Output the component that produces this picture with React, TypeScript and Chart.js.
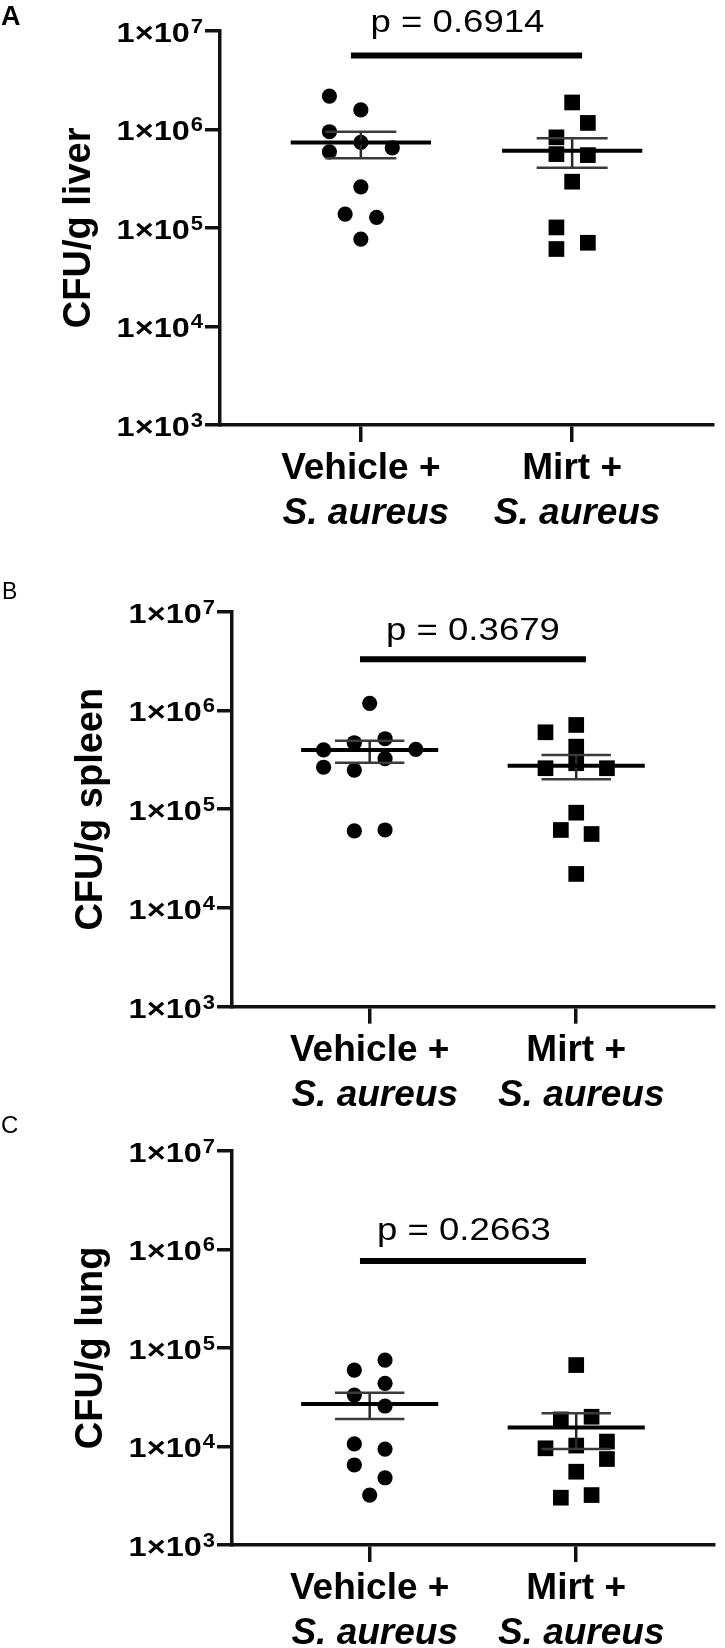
import React, { useEffect, useRef } from "react";
import { Chart, registerables } from "chart.js";

Chart.register(...registerables);

// ---------- data ----------
const categories = ["Vehicle +", "Mirt +"];
const categorySub = "S. aureus";
const yTickValues = [1e3, 1e4, 1e5, 1e6, 1e7];
const yTickExponents = ["3", "4", "5", "6", "7"];
const panelLetters = ["A", "B", "C"];
const yTitles = ["CFU/g liver", "CFU/g spleen", "CFU/g lung"];
const pLabels = ["p = 0.6914", "p = 0.3679", "p = 0.2663"];
const pBarValues = [5.6e6, 3.3e6, 7.6e5];

// liver
const liverVehicle = [2.17e6, 1.57e6, 9.44e5, 7.36e5, 6.49e5, 5.91e5, 2.61e5, 1.38e5, 1.28e5, 7.7e4];
const liverVehicleCols = [-2, 0, -2, 0, 2, -2, 0, -1, 1, 0];
const liverMirt = [1.87e6, 1.16e6, 8.28e5, 5.6e5, 5.47e5, 2.94e5, 1.01e5, 7.06e4, 6.1e4];
const liverMirtCols = [0, 1, -1, -1, 1, 0, -1, 1, -1];
// spleen
const spleenVehicle = [1.18e6, 4.71e5, 5.17e5, 3.98e5, 4.04e5, 3.25e5, 2.66e5, 2.49e5, 6.02e4, 6.16e4];
const spleenVehicleCols = [0, -1, 1, -3, 3, 1, -3, -1, -1, 1];
const spleenMirt = [6.01e5, 7.13e5, 4.3e5, 2.6e5, 2.92e5, 2.6e5, 9.22e4, 6.16e4, 5.61e4, 2.21e4];
const spleenMirtCols = [-2, 0, 0, -2, 0, 2, 0, -1, 1, 0];
// lung
const lungVehicle = [7.52e4, 5.95e4, 4.37e4, 3.32e4, 2.57e4, 1.06e4, 9.4e3, 6.48e3, 4.81e3, 3.21e3];
const lungVehicleCols = [1, -1, 1, -1, 1, -1, 1, -1, 1, 0];
const lungMirt = [6.69e4, 1.88e4, 2.0e4, 9.57e3, 1.02e4, 1.12e4, 7.45e3, 5.54e3, 3.02e3, 3.21e3];
const lungMirtCols = [0, -1, 1, -2, 0, 2, 2, 0, -1, 1];

// mean and SEM bounds: [vehicle, mirt]
const liverMean = [7.36e5, 6.05e5];
const liverSemHigh = [9.44e5, 8.09e5];
const liverSemLow = [5.07e5, 4.07e5];
const spleenMean = [3.98e5, 2.76e5];
const spleenSemHigh = [4.94e5, 3.54e5];
const spleenSemLow = [2.96e5, 2.01e5];
const lungMean = [2.69e4, 1.56e4];
const lungSemHigh = [3.5e4, 2.17e4];
const lungSemLow = [1.9e4, 9.4e3];

// ---------- layout / style ----------
const FONT = '"Liberation Sans", Arial, Helvetica, sans-serif';
const JITTER = 0.0744;
const MEAN_HALF = 0.332;
const SEM_HALF = 0.168;
const BAR_EXT = 0.047;

type Panel = {
  top: number;
  height: number;
  padding: { left: number; top: number; right: number; bottom: number };
  letterFont: string;
  letterX: number;
  letterY: number;
  titleBaselineX: number;
  pOffsetX: number;
  pGap: number;
  vehicle: number[];
  vehicleCols: number[];
  mirt: number[];
  mirtCols: number[];
  mean: number[];
  semHigh: number[];
  semLow: number[];
};

const panels: Panel[] = [
  {
    top: 0, height: 560,
    padding: { left: 220, top: 30.7, right: 12, bottom: 135 },
    letterFont: `bold 27px ${FONT}`, letterX: 1, letterY: 25,
    titleBaselineX: 90, pOffsetX: -9, pGap: 24,
    vehicle: liverVehicle, vehicleCols: liverVehicleCols,
    mirt: liverMirt, mirtCols: liverMirtCols,
    mean: liverMean, semHigh: liverSemHigh, semLow: liverSemLow,
  },
  {
    top: 560, height: 560,
    padding: { left: 232, top: 51.7, right: 1, bottom: 113.3 },
    letterFont: `23px ${FONT}`, letterX: 2, letterY: 39.3,
    titleBaselineX: 102, pOffsetX: 0, pGap: 19,
    vehicle: spleenVehicle, vehicleCols: spleenVehicleCols,
    mirt: spleenMirt, mirtCols: spleenMirtCols,
    mean: spleenMean, semHigh: spleenSemHigh, semLow: spleenSemLow,
  },
  {
    top: 1100, height: 548,
    padding: { left: 232, top: 50.7, right: 1, bottom: 103 },
    letterFont: `24px ${FONT}`, letterX: 1, letterY: 33,
    titleBaselineX: 102, pOffsetX: -9, pGap: 21,
    vehicle: lungVehicle, vehicleCols: lungVehicleCols,
    mirt: lungMirt, mirtCols: lungMirtCols,
    mean: lungMean, semHigh: lungSemHigh, semLow: lungSemLow,
  },
];

function drawScaled(ctx: CanvasRenderingContext2D, text: string, x: number, y: number, sx: number, font: string) {
  ctx.save();
  ctx.translate(x, y);
  ctx.scale(sx, 1);
  ctx.font = font;
  ctx.textAlign = "left";
  ctx.textBaseline = "alphabetic";
  ctx.fillText(text, 0, 0);
  ctx.restore();
}

function makeTextPlugin(idx: number) {
  const panel = panels[idx];
  return {
    id: "panelText" + idx,
    afterDraw(chart: any) {
      const ctx: CanvasRenderingContext2D = chart.ctx;
      const xs = chart.scales.x;
      const ys = chart.scales.y;
      const area = chart.chartArea;
      ctx.save();
      ctx.fillStyle = "#000";

      // panel letter
      ctx.font = panel.letterFont;
      ctx.textAlign = "left";
      ctx.textBaseline = "alphabetic";
      ctx.fillText(panelLetters[idx], panel.letterX, panel.letterY);

      // y tick labels 1×10^n
      const mainFont = `bold 28px ${FONT}`;
      const supFont = `bold 20px ${FONT}`;
      yTickValues.forEach((v, i) => {
        const y = ys.getPixelForValue(v);
        ctx.font = mainFont;
        const mainW = ctx.measureText("1×10").width * 1.16;
        ctx.font = supFont;
        const supW = ctx.measureText(yTickExponents[i]).width * 1.1;
        const right = area.left - 17;
        const supX = right - supW;
        const mainX = supX - 1 - mainW;
        drawScaled(ctx, "1×10", mainX, y + 11, 1.16, mainFont);
        drawScaled(ctx, yTickExponents[i], supX, y + 2, 1.1, supFont);
      });

      // y title
      ctx.save();
      ctx.translate(panel.titleBaselineX, (area.top + area.bottom) / 2);
      ctx.rotate(-Math.PI / 2);
      ctx.font = `bold 38px ${FONT}`;
      ctx.textAlign = "center";
      ctx.textBaseline = "alphabetic";
      ctx.fillText(yTitles[idx], 0, 0);
      ctx.restore();

      // category labels
      categories.forEach((c, i) => {
        const x = xs.getPixelForValue(i + 1);
        ctx.font = `bold 37px ${FONT}`;
        ctx.textAlign = "center";
        ctx.textBaseline = "alphabetic";
        ctx.fillText(c, x, area.bottom + 54);
        ctx.font = `italic bold 37px ${FONT}`;
        ctx.fillText(categorySub, x + 5, area.bottom + 99);
      });

      // p value
      const pFont = `31px ${FONT}`;
      ctx.font = pFont;
      const pw = ctx.measureText(pLabels[idx]).width * 1.18;
      const pcx = xs.getPixelForValue(1.5) + panel.pOffsetX;
      const py = ys.getPixelForValue(pBarValues[idx]) - panel.pGap;
      drawScaled(ctx, pLabels[idx], pcx - pw / 2, py, 1.18, pFont);

      ctx.restore();
    },
  };
}

function lineDs(data: { x: number; y: number }[], width: number, color: string) {
  return {
    data,
    showLine: true,
    borderColor: color,
    borderWidth: width,
    borderCapStyle: "butt",
    pointRadius: 0,
    pointHoverRadius: 0,
    order: 0,
    clip: false,
  };
}

function buildDatasets(idx: number) {
  const p = panels[idx];
  const groups = [
    { vals: p.vehicle, cols: p.vehicleCols, style: "circle", radius: 7.6 },
    { vals: p.mirt, cols: p.mirtCols, style: "rect", radius: 11.1 },
  ];
  const ds: any[] = [];
  groups.forEach((g, gi) => {
    const cx = gi + 1;
    ds.push({
      label: categories[gi],
      data: g.vals.map((v, k) => ({ x: cx + g.cols[k] * JITTER, y: v })),
      showLine: false,
      pointStyle: g.style,
      pointRadius: g.radius,
      pointHoverRadius: g.radius,
      pointBackgroundColor: "#000",
      pointBorderWidth: 0,
      order: 1,
      clip: false,
    });
    ds.push(lineDs([{ x: cx - MEAN_HALF, y: p.mean[gi] }, { x: cx + MEAN_HALF, y: p.mean[gi] }], 4, "#000"));
    ds.push(lineDs([{ x: cx - SEM_HALF, y: p.semHigh[gi] }, { x: cx + SEM_HALF, y: p.semHigh[gi] }], 2.5, "#3a3a3a"));
    ds.push(lineDs([{ x: cx - SEM_HALF, y: p.semLow[gi] }, { x: cx + SEM_HALF, y: p.semLow[gi] }], 2.5, "#3a3a3a"));
    ds.push(lineDs([{ x: cx, y: p.semLow[gi] }, { x: cx, y: p.semHigh[gi] }], 2.5, "#2a2a2a"));
  });
  ds.push(lineDs([{ x: 1 - BAR_EXT, y: pBarValues[idx] }, { x: 2 + BAR_EXT, y: pBarValues[idx] }], 6, "#000"));
  return ds;
}

function makeChart(canvas: HTMLCanvasElement, idx: number) {
  const p = panels[idx];
  return new Chart(canvas, {
    type: "scatter",
    data: { datasets: buildDatasets(idx) },
    options: {
      animation: false,
      responsive: false,
      devicePixelRatio: 1,
      events: [],
      layout: { padding: p.padding },
      plugins: { legend: { display: false }, tooltip: { enabled: false } },
      scales: {
        x: {
          type: "linear",
          min: 1 / 3,
          max: 8 / 3,
          afterBuildTicks: (s: any) => {
            s.ticks = [{ value: 1 }, { value: 2 }];
          },
          afterFit: (s: any) => {
            s.height = 0;
          },
          ticks: { display: false },
          grid: { display: true, drawOnChartArea: false, drawTicks: true, tickLength: 17, lineWidth: 3.5, color: "#111" },
          border: { display: true, width: 3.5, color: "#111" },
        },
        y: {
          type: "logarithmic",
          min: 1e3,
          max: 1e7,
          afterBuildTicks: (s: any) => {
            s.ticks = yTickValues.map((v) => ({ value: v }));
          },
          afterFit: (s: any) => {
            s.width = 0;
          },
          ticks: { display: false },
          grid: { display: true, drawOnChartArea: false, drawTicks: true, tickLength: 15, lineWidth: 3.5, color: "#111" },
          border: { display: true, width: 3.5, color: "#111" },
        },
      },
    } as any,
    plugins: [makeTextPlugin(idx)],
  });
}

export default function App() {
  const refA = useRef<HTMLCanvasElement>(null);
  const refB = useRef<HTMLCanvasElement>(null);
  const refC = useRef<HTMLCanvasElement>(null);

  useEffect(() => {
    const refs = [refA, refB, refC];
    const charts = refs.map((r, i) => makeChart(r.current as HTMLCanvasElement, i));
    return () => charts.forEach((c) => c.destroy());
  }, []);

  const refs = [refA, refB, refC];
  return (
    <div style={{ position: "absolute", left: 0, top: 0, width: 725, height: 1648, background: "#fff" }}>
      {panels.map((p, i) => (
        <canvas
          key={i}
          ref={refs[i]}
          width={725}
          height={p.height}
          style={{ position: "absolute", left: 0, top: p.top, width: 725, height: p.height, display: "block" }}
        />
      ))}
    </div>
  );
}
